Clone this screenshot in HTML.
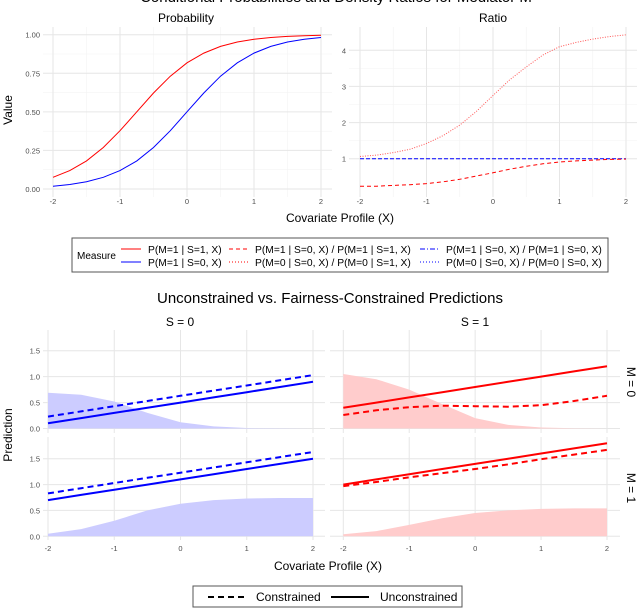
<!DOCTYPE html>
<html><head><meta charset="utf-8">
<style>
html,body{margin:0;padding:0;background:#fff;}
svg{display:block;font-family:"Liberation Sans",sans-serif;}
</style></head>
<body>
<svg id="c" width="640" height="608" viewBox="0 0 640 608">
<text x="336" y="2" font-size="15" text-anchor="middle" fill="#000">Conditional Probabilities and Density Ratios for Mediator M</text>
<text x="186" y="22" font-size="12" text-anchor="middle">Probability</text>
<text x="493" y="22" font-size="12" text-anchor="middle">Ratio</text>
<text x="12" y="110" font-size="12" text-anchor="middle" transform="rotate(-90 12 110)">Value</text>
<text x="340" y="222" font-size="12" text-anchor="middle">Covariate Profile (X)</text>
<g>
<rect x="72" y="238" width="536" height="34" fill="#fff" stroke="#555" stroke-width="1"/>
<text x="77" y="259" font-size="10">Measure</text>
<line x1="121" y1="249" x2="141" y2="249" stroke="#f00" stroke-width="1"/>
<text x="148" y="253" font-size="10.3">P(M=1 | S=1, X)</text>
<line x1="121" y1="262" x2="141" y2="262" stroke="#00f" stroke-width="1"/>
<text x="148" y="266" font-size="10.3">P(M=1 | S=0, X)</text>
<line x1="229" y1="249" x2="249" y2="249" stroke="#f00" stroke-width="1" stroke-dasharray="4,3"/>
<text x="255" y="253" font-size="10.3">P(M=1 | S=0, X) / P(M=1 | S=1, X)</text>
<line x1="229" y1="262" x2="249" y2="262" stroke="#f00" stroke-width="1" stroke-dasharray="1,2"/>
<text x="255" y="266" font-size="10.3">P(M=0 | S=0, X) / P(M=0 | S=1, X)</text>
<line x1="420" y1="249" x2="440" y2="249" stroke="#00f" stroke-width="1" stroke-dasharray="5,2,1,2"/>
<text x="446" y="253" font-size="10.3">P(M=1 | S=0, X) / P(M=1 | S=0, X)</text>
<line x1="420" y1="262" x2="440" y2="262" stroke="#00f" stroke-width="1" stroke-dasharray="1,2"/>
<text x="446" y="266" font-size="10.3">P(M=0 | S=0, X) / P(M=0 | S=0, X)</text>
</g>
<text x="330" y="303" font-size="15" text-anchor="middle">Unconstrained vs. Fairness-Constrained Predictions</text>
<text x="180" y="326" font-size="12" text-anchor="middle">S = 0</text>
<text x="475" y="326" font-size="12" text-anchor="middle">S = 1</text>
<text x="630" y="382" font-size="12" text-anchor="middle" transform="rotate(90 630 382)" dominant-baseline="middle">M = 0</text>
<text x="630" y="488" font-size="12" text-anchor="middle" transform="rotate(90 630 488)" dominant-baseline="middle">M = 1</text>
<text x="12" y="435" font-size="12" text-anchor="middle" transform="rotate(-90 12 435)">Prediction</text>
<text x="328" y="570" font-size="12" text-anchor="middle">Covariate Profile (X)</text>
<g>
<rect x="193" y="586" width="269" height="21" fill="#fff" stroke="#555" stroke-width="1"/>
<line x1="208" y1="597" x2="244" y2="597" stroke="#000" stroke-width="2" stroke-dasharray="6,4"/>
<text x="256" y="601" font-size="12">Constrained</text>
<line x1="331" y1="597" x2="369" y2="597" stroke="#000" stroke-width="2"/>
<text x="380" y="601" font-size="12">Unconstrained</text>
</g>
<g id="plots"></g>
</svg>
<script>
const xs = [-2,-1.75,-1.5,-1.25,-1,-0.75,-0.5,-0.25,0,0.25,0.5,0.75,1,1.25,1.5,1.75,2];
const probS1 = [0.076,0.119,0.182,0.269,0.378,0.5,0.622,0.731,0.818,0.881,0.924,0.953,0.971,0.982,0.989,0.993,0.996];
const probS0 = [0.018,0.029,0.047,0.076,0.119,0.182,0.269,0.378,0.5,0.622,0.731,0.818,0.881,0.924,0.953,0.971,0.982];
const ratioM1 = [0.24,0.24,0.26,0.28,0.31,0.36,0.43,0.52,0.61,0.71,0.79,0.86,0.91,0.94,0.96,0.98,0.99];
const ratioM0 = [1.06,1.10,1.17,1.26,1.42,1.64,1.93,2.31,2.75,3.18,3.54,3.87,4.10,4.22,4.31,4.38,4.43];
const ratioS0 = [1,1,1,1,1,1,1,1,1,1,1,1,1,1,1,1,1];
const probTicks = ["0.00","0.25","0.50","0.75","1.00"];
const ratioTicks = ["1","2","3","4"];
const xTicks = ["-2","-1","0","1","2"];
const predTicks = ["0.0","0.5","1.0","1.5"];
const bx = [-2,-1.5,-1,-0.5,0,0.5,1,1.5,2];
const densS0M0 = [0.69,0.65,0.52,0.30,0.12,0.04,0.01,0.003,0];
const densS0M1 = [0.05,0.14,0.30,0.50,0.63,0.70,0.73,0.74,0.74];
const densS1M0 = [1.05,0.95,0.75,0.47,0.20,0.07,0.02,0.005,0];
const densS1M1 = [0.04,0.10,0.22,0.35,0.45,0.50,0.53,0.54,0.54];
const uncS0M0 = [0.10,0.20,0.30,0.40,0.50,0.60,0.70,0.80,0.90];
const conS0M0 = [0.23,0.33,0.43,0.53,0.63,0.73,0.83,0.93,1.03];
const uncS0M1 = [0.70,0.80,0.90,1.00,1.10,1.20,1.30,1.40,1.50];
const conS0M1 = [0.83,0.93,1.03,1.13,1.23,1.33,1.43,1.53,1.63];
const uncS1M0 = [0.40,0.50,0.60,0.70,0.80,0.90,1.00,1.10,1.20];
const conS1M0 = [0.26,0.35,0.41,0.44,0.43,0.42,0.45,0.53,0.63];
const uncS1M1 = [1.00,1.10,1.20,1.30,1.40,1.50,1.60,1.70,1.80];
const conS1M1 = [0.97,1.05,1.14,1.22,1.30,1.39,1.49,1.58,1.67];

const NS="http://www.w3.org/2000/svg";
const root=document.getElementById('plots');
function mk(tag,attrs,parent){const e=document.createElementNS(NS,tag);for(const k in attrs)e.setAttribute(k,attrs[k]);(parent||root).appendChild(e);return e;}
function lin(d0,d1,r0,r1){return v=>r0+(v-d0)*(r1-r0)/(d1-d0);}
function pathD(xv,yv,sx,sy){return xv.map((x,i)=>(i?'L':'M')+sx(x).toFixed(1)+','+sy(yv[i]).toFixed(1)).join(' ');}

function panel(name,x0,x1,y0,y1,sx,sy,yTickVals,yTickLabels,xLabY,minorY){
  const g=mk('g',{});
  
  
  if(minorY){minorY.forEach(v=>{mk('line',{x1:x0,x2:x1,y1:sy(v),y2:sy(v),stroke:'#f3f3f3','stroke-width':0.6},g);});
    [-1.5,-0.5,0.5,1.5].forEach(v=>{mk('line',{x1:sx(v),x2:sx(v),y1:y0,y2:y1,stroke:'#f3f3f3','stroke-width':0.6},g);});}
  yTickVals.forEach((v,i)=>{mk('line',{x1:x0,x2:x1,y1:sy(v),y2:sy(v),stroke:'#e6e6e6','stroke-width':1},g);
    if(yTickLabels){const t=mk('text',{x:x0-3,y:sy(v)+3,'font-size':7.5,'text-anchor':'end',fill:'#4d4d4d'},g);t.textContent=yTickLabels[i];
      
      }});
  xTicks.forEach(l=>{const v=+l;mk('line',{x1:sx(v),x2:sx(v),y1:y0,y2:y1,stroke:'#e6e6e6','stroke-width':1},g);
    if(xLabY){const t=mk('text',{x:sx(v),y:xLabY,'font-size':7.5,'text-anchor':'middle',fill:'#4d4d4d'},g);t.textContent=l;
      
      }});
  return g;
}
{const sx=lin(-2,2,53,321), sy=lin(0,1,189,34.7);
 const g=panel('probability-panel',43,332,27,197,sx,sy,probTicks.map(Number),probTicks,204,[0.125,0.375,0.625,0.875]);
 const a=mk('path',{d:pathD(xs,probS1,sx,sy),fill:'none',stroke:'#f00','stroke-width':1},g);
 
 
 const b=mk('path',{d:pathD(xs,probS0,sx,sy),fill:'none',stroke:'#00f','stroke-width':1},g);
 
 }
{const sx=lin(-2,2,360,626), sy=lin(1,4,158.7,50.3);
 const g=panel('ratio-panel',349,637,27,197,sx,sy,ratioTicks.map(Number),ratioTicks,204,[1.5,2.5,3.5]);
 const c=mk('path',{d:pathD(xs,ratioS0,sx,sy),fill:'none',stroke:'#00f','stroke-width':1,'stroke-dasharray':'4,2'},g);
 
 
 const a=mk('path',{d:pathD(xs,ratioM1,sx,sy),fill:'none',stroke:'#f00','stroke-width':1,'stroke-dasharray':'4,3'},g);
 
 
 const b=mk('path',{d:pathD(xs,ratioM0,sx,sy),fill:'none',stroke:'#f55','stroke-width':1,'stroke-dasharray':'1,1.5'},g);
 
 }
const facets=[
 {n:'facet-s0-m0',px:[48,313],xr:[43,325],row:0,col:'#00f',fill:'#ccccff',d:densS0M0,u:uncS0M0,c:conS0M0,yl:true,xl:false},
 {n:'facet-s1-m0',px:[343.3,607],xr:[330,620],row:0,col:'#f00',fill:'#ffcccc',d:densS1M0,u:uncS1M0,c:conS1M0,yl:false,xl:false},
 {n:'facet-s0-m1',px:[48,313],xr:[43,325],row:1,col:'#00f',fill:'#ccccff',d:densS0M1,u:uncS0M1,c:conS0M1,yl:true,xl:true},
 {n:'facet-s1-m1',px:[343.3,607],xr:[330,620],row:1,col:'#f00',fill:'#ffcccc',d:densS1M1,u:uncS1M1,c:conS1M1,yl:false,xl:true}];
facets.forEach(f=>{
 const sx=lin(-2,2,f.px[0],f.px[1]);
 const base=f.row?536.3:428.5, top=f.row?458.7:350.7;
 const sy=lin(0,1.5,base,top);
 const g=panel(f.n,f.xr[0],f.xr[1],f.row?437:330,f.row?540:433,sx,sy,predTicks.map(Number),f.yl?predTicks:null,f.xl?551:null,null);
 const area=mk('path',{d:pathD(bx,f.d,sx,sy)+' L'+sx(2)+','+sy(0)+' L'+sx(-2)+','+sy(0)+' Z',fill:f.fill,stroke:'none'},g);
 
 
 const u=mk('path',{d:pathD(bx,f.u,sx,sy),fill:'none',stroke:f.col,'stroke-width':2},g);
 
 
 const c=mk('path',{d:pathD(bx,f.c,sx,sy),fill:'none',stroke:f.col,'stroke-width':2,'stroke-dasharray':'6,4'},g);
 
 
});
</script>
</body></html>
